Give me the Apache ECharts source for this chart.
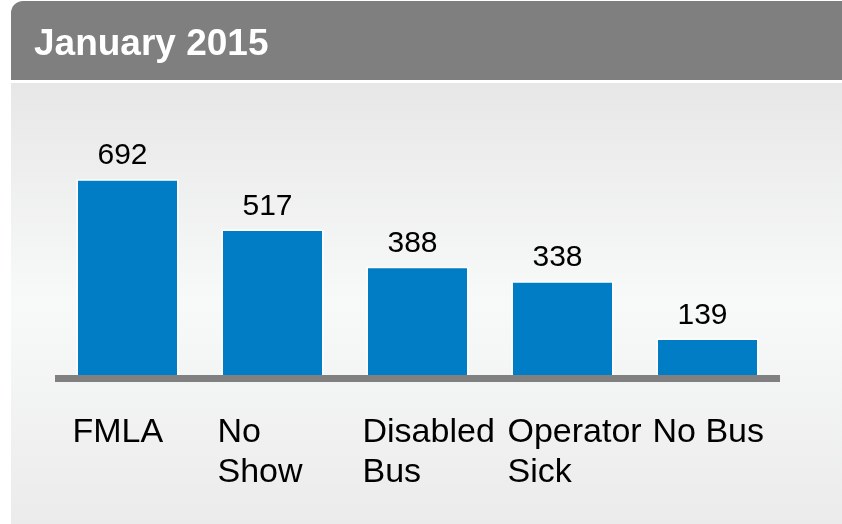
<!DOCTYPE html>
<html>
<head>
<meta charset="utf-8">
<script src="https://cdn.jsdelivr.net/npm/echarts@6/dist/echarts.min.js"></script>
<style>
html,body{margin:0;padding:0;background:#ffffff;}
#chart{width:842px;height:524px;}
</style>
</head>
<body>
<div id="chart"></div>
<script>
const title = 'January 2015';
const categories = ['FMLA', 'No\nShow', 'Disabled\nBus', 'Operator\nSick', 'No Bus'];
const values = [692, 517, 388, 338, 139];

const chart = echarts.init(document.getElementById('chart'), null, {renderer: 'canvas'});
const FONT = '"Liberation Sans", Arial, Helvetica, sans-serif';

chart.setOption({
  animation: false,
  backgroundColor: '#ffffff',
  graphic: [
    {
      type: 'rect', z: -10, silent: true,
      shape: {x: 11, y: 83, width: 840, height: 441},
      style: {
        fill: new echarts.graphic.LinearGradient(0, 0, 0, 1, [
          {offset: 0, color: '#e6e7e6'},
          {offset: 0.5, color: '#f8f9f9'},
          {offset: 1, color: '#ebebeb'}
        ])
      }
    },
    {
      type: 'rect', z: -10, silent: true,
      shape: {x: 11, y: 1, width: 850, height: 79, r: [12, 0, 0, 0]},
      style: {fill: '#7f7f7f'}
    },
    {
      type: 'text', z: 10, silent: true,
      left: 34, top: 26,
      style: {
        text: title,
        fill: '#ffffff',
        font: 'bold 37px ' + FONT
      }
    }
  ],
  grid: {left: 55, right: 62, top: 90.5, bottom: 145.5},
  xAxis: {
    type: 'category',
    data: categories,
    z: 5,
    axisLine: {show: true, lineStyle: {color: '#808080', width: 7, cap: 'butt'}},
    axisTick: {show: false},
    splitLine: {show: false},
    axisLabel: {
      interval: 0,
      hideOverlap: false,
      margin: 34,
      align: 'center',
      formatter: function (v) {
        return v.split('\n').map(function (s) { return '{a|' + s + '}'; }).join('\n');
      },
      rich: {
        a: {
          width: 110, align: 'left',
          fontSize: 34, lineHeight: 40,
          fontFamily: FONT, color: '#000000'
        }
      }
    }
  },
  yAxis: {
    type: 'value', min: 0, max: 1000, show: false,
    splitLine: {show: false}
  },
  series: [{
    type: 'bar',
    data: values,
    barWidth: 102,
    itemStyle: {color: '#007dc5', borderColor: '#ffffff', borderWidth: 1.5},
    label: {
      show: true, position: 'top', distance: 8, offset: [-5, 0],
      fontSize: 30, fontFamily: FONT, color: '#000000'
    }
  }]
});
</script>
</body>
</html>
